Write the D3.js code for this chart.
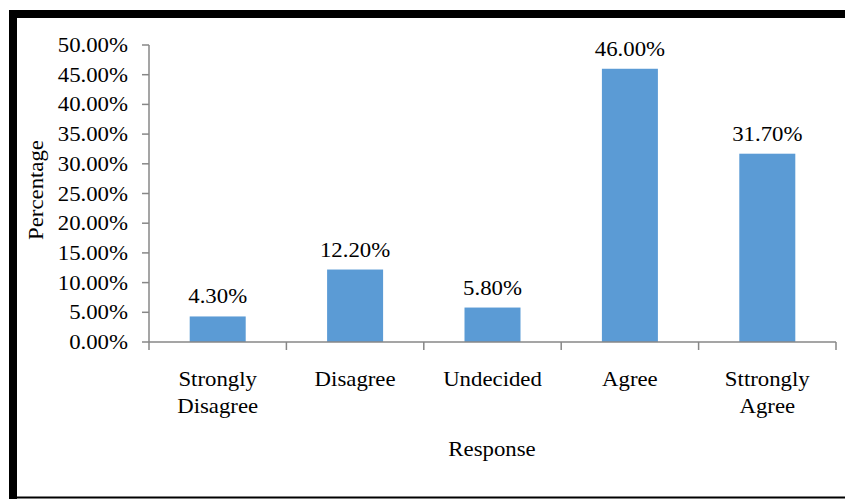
<!DOCTYPE html>
<html><head><meta charset="utf-8">
<script src="https://cdn.jsdelivr.net/npm/d3@7"></script>
<style>html,body{margin:0;padding:0;background:#fff;}svg{display:block;}</style>
</head><body>
<svg id="chart" width="845" height="499"></svg>
<script>
const categories = [["Strongly","Disagree"],["Disagree"],["Undecided"],["Agree"],["Sttrongly","Agree"]];
const values = [4.3, 12.2, 5.8, 46.0, 31.7];
const valueLabels = ["4.30%","12.20%","5.80%","46.00%","31.70%"];
const yTicks = [0,5,10,15,20,25,30,35,40,45,50];
const yTickLabels = yTicks.map(v => v.toFixed(2) + "%");
const xTitle = "Response";
const yTitle = "Percentage";

const svg = d3.select("#chart");
const FONT = "'Liberation Serif','Times New Roman',serif";
const SX = 1.14;
const axisColor = "#878787";

// frame
svg.append("rect").attr("x",9).attr("y",10).attr("width",8).attr("height",489).attr("fill","#000");
svg.append("rect").attr("x",9).attr("y",10).attr("width",836).attr("height",8).attr("fill","#000");
svg.append("rect").attr("x",9).attr("y",496.5).attr("width",836).attr("height",2).attr("fill","#000");

const m = {left:149, right:836, top:45, bottom:342};
const x = d3.scaleBand().domain(d3.range(categories.length)).range([m.left, m.right]).paddingInner(0.595).paddingOuter(0.2975);
const xb = d3.scaleBand().domain(d3.range(categories.length)).range([m.left, m.right]);
const y = d3.scaleLinear().domain([0,50]).range([m.bottom, m.top]);

function stext(g, tx, ty, str, anchor, size) {
  return g.append("text")
    .attr("transform", `translate(${tx},${ty}) scale(${SX},1)`)
    .attr("text-anchor", anchor)
    .attr("font-family", FONT)
    .attr("font-size", size)
    .attr("fill", "#000")
    .text(str);
}

// bars
svg.append("g").selectAll("rect").data(values).join("rect")
  .attr("x",(d,i)=>xb(i)+xb.bandwidth()/2-28)
  .attr("width",56)
  .attr("y",d=>y(d))
  .attr("height",d=>y(0)-y(d))
  .attr("fill","#5B9BD5");

// y axis
const ya = svg.append("g");
ya.append("line").attr("x1",m.left).attr("x2",m.left).attr("y1",y(50)).attr("y2",y(0)).attr("stroke",axisColor).attr("stroke-width",1.5);
yTicks.forEach((t,i)=>{
  ya.append("line").attr("x1",m.left-7).attr("x2",m.left).attr("y1",y(t)).attr("y2",y(t)).attr("stroke",axisColor).attr("stroke-width",1.5);
  stext(ya, 128, y(t)+7, yTickLabels[i], "end", 20);
});

// x axis
const xa = svg.append("g");
xa.append("line").attr("x1",m.left).attr("x2",m.right).attr("y1",m.bottom).attr("y2",m.bottom).attr("stroke",axisColor).attr("stroke-width",1.5);
d3.range(categories.length+1).forEach(i=>{
  const xx = i<categories.length ? xb(i) : m.right;
  xa.append("line").attr("x1",xx).attr("x2",xx).attr("y1",m.bottom).attr("y2",m.bottom+8).attr("stroke",axisColor).attr("stroke-width",1.5);
});
categories.forEach((lines,i)=>{
  const cx = xb(i)+xb.bandwidth()/2;
  lines.forEach((ln,j)=>{
    stext(xa, cx, 386 + j*27, ln, "middle", 20);
  });
});

// value labels
values.forEach((v,i)=>{
  stext(svg, xb(i)+xb.bandwidth()/2, y(v)-13, valueLabels[i], "middle", 20);
});

// titles
stext(svg, 492, 456, xTitle, "middle", 20);
svg.append("text")
  .attr("transform", `translate(43,190) rotate(-90) scale(${SX},1)`)
  .attr("text-anchor","middle").attr("font-family",FONT).attr("font-size",20).attr("fill","#000")
  .text(yTitle);
</script>
</body></html>
